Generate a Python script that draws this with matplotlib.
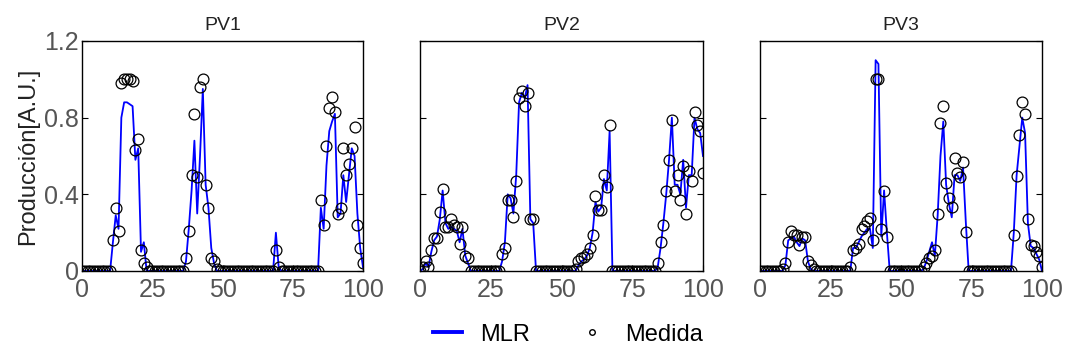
import matplotlib
matplotlib.use("Agg")
import matplotlib.pyplot as plt
from matplotlib.lines import Line2D
import numpy as np

plt.rcParams['font.family'] = ['Liberation Sans', 'DejaVu Sans']

# ---------------- data ----------------
x = np.arange(101)

titles = ["PV1", "PV2", "PV3"]
x_ticks = [0, 25, 50, 75, 100]
y_ticks = [0, 0.4, 0.8, 1.2]
y_ticklabels = ["0", "0.4", "0.8", "1.2"]

pv1_medida = [
    0, 0, 0, 0, 0, 0, 0, 0, 0, 0, 0,
    0.16, 0.33, 0.21, 0.98, 1.00, 1.00, 1.00, 0.99, 0.63, 0.69, 0.11, 0.04, 0.02,
    0, 0, 0, 0, 0, 0, 0, 0, 0, 0, 0, 0, 0,
    0.07, 0.21, 0.50, 0.82, 0.49, 0.96, 1.00, 0.45, 0.33, 0.07, 0.05, 0.01,
    0, 0, 0, 0, 0, 0, 0, 0, 0, 0, 0, 0, 0, 0, 0, 0, 0, 0, 0, 0,
    0.11, 0.02,
    0, 0, 0, 0, 0, 0, 0, 0, 0, 0, 0, 0, 0, 0,
    0.37, 0.24, 0.65, 0.85, 0.91, 0.83, 0.30, 0.33, 0.64, 0.50, 0.56, 0.64, 0.75, 0.24, 0.12, 0.04,
]
pv1_mlr = [
    0, 0, 0, 0, 0, 0, 0, 0, 0, 0, 0,
    0.15, 0.29, 0.22, 0.80, 0.88, 0.88, 0.87, 0.86, 0.58, 0.64, 0.10, 0.15, 0.00,
    0, 0, 0, 0, 0, 0, 0, 0, 0, 0, 0, 0, 0,
    0.05, 0.22, 0.42, 0.68, 0.30, 0.60, 0.95, 0.45, 0.33, 0.12, 0.04, 0.00,
    0, 0, 0, 0, 0, 0, 0, 0, 0, 0, 0, 0, 0, 0, 0, 0, 0, 0, 0, 0,
    0.20, 0.02,
    0, 0, 0, 0, 0, 0, 0, 0, 0, 0, 0, 0, 0, 0,
    0.33, 0.22, 0.55, 0.73, 0.78, 0.82, 0.28, 0.30, 0.50, 0.36, 0.50, 0.64, 0.60, 0.30, 0.12, 0.02,
]

pv2_medida = [
    0, 0.02, 0.05, 0.02, 0.11, 0.17, 0.17, 0.31, 0.43, 0.23, 0.23, 0.27, 0.24, 0.23, 0.14, 0.23, 0.08, 0.07,
    0, 0, 0, 0, 0, 0, 0, 0, 0, 0, 0,
    0.09, 0.12, 0.37, 0.37, 0.28, 0.47, 0.90, 0.94, 0.86, 0.93, 0.27, 0.27,
    0, 0, 0, 0, 0, 0, 0, 0, 0, 0, 0, 0, 0, 0,
    0.01, 0.05, 0.07, 0.075, 0.09, 0.12, 0.19, 0.39, 0.32, 0.32, 0.50, 0.44, 0.76,
    0, 0, 0, 0, 0, 0, 0, 0, 0, 0, 0, 0, 0, 0, 0, 0,
    0.04, 0.15, 0.24, 0.42, 0.58, 0.79, 0.42, 0.50, 0.37, 0.55, 0.30, 0.52, 0.47, 0.83, 0.76, 0.73, 0.51,
]
pv2_mlr = [
    0, 0.01, 0.04, 0.02, 0.10, 0.16, 0.18, 0.27, 0.42, 0.25, 0.22, 0.23, 0.22, 0.21, 0.15, 0.22, 0.08, 0.04,
    0, 0, 0, 0, 0, 0, 0, 0, 0, 0, 0,
    0.05, 0.15, 0.40, 0.38, 0.30, 0.50, 0.88, 0.93, 0.90, 0.97, 0.27, 0.25,
    0, 0, 0, 0, 0, 0, 0, 0, 0, 0, 0, 0, 0, 0,
    0.00, 0.03, 0.05, 0.06, 0.08, 0.12, 0.20, 0.36, 0.31, 0.33, 0.48, 0.42, 0.73,
    0, 0, 0, 0, 0, 0, 0, 0, 0, 0, 0, 0, 0, 0, 0, 0,
    0.02, 0.12, 0.25, 0.40, 0.58, 0.80, 0.45, 0.45, 0.40, 0.58, 0.33, 0.50, 0.50, 0.80, 0.74, 0.72, 0.60,
]

pv3_medida = [
    0, 0, 0, 0, 0, 0, 0, 0,
    0.01, 0.04, 0.15, 0.21, 0.19, 0.19, 0.135, 0.175, 0.175, 0.05, 0.03, 0.01,
    0, 0, 0, 0, 0, 0, 0, 0, 0, 0, 0, 0,
    0.02, 0.11, 0.12, 0.14, 0.22, 0.235, 0.26, 0.275, 0.16, 1.00, 1.00, 0.22, 0.42, 0.18,
    0, 0, 0, 0, 0, 0, 0, 0, 0, 0, 0, 0,
    0.02, 0.04, 0.066, 0.08, 0.11, 0.30, 0.77, 0.86, 0.46, 0.38, 0.335, 0.59, 0.51, 0.49, 0.57, 0.205,
    0, 0, 0, 0, 0, 0, 0, 0, 0, 0, 0, 0, 0, 0, 0, 0,
    0.19, 0.495, 0.71, 0.88, 0.82, 0.27, 0.135, 0.13, 0.10, 0.08, 0.02,
]
pv3_mlr = [
    0, 0, 0, 0, 0, 0, 0, 0,
    0.00, 0.03, 0.16, 0.17, 0.18, 0.15, 0.13, 0.17, 0.16, 0.05, 0.01, 0.00,
    0, 0, 0, 0, 0, 0, 0, 0, 0, 0, 0, 0,
    0.00, 0.12, 0.12, 0.15, 0.18, 0.20, 0.22, 0.22, 0.12, 1.10, 1.08, 0.18, 0.42, 0.20,
    0, 0, 0, 0, 0, 0, 0, 0, 0, 0, 0, 0,
    0.01, 0.05, 0.10, 0.15, 0.08, 0.29, 0.60, 0.78, 0.45, 0.35, 0.28, 0.50, 0.50, 0.47, 0.54, 0.25,
    0, 0, 0, 0, 0, 0, 0, 0, 0, 0, 0, 0, 0, 0, 0, 0,
    0.20, 0.50, 0.65, 0.80, 0.72, 0.25, 0.13, 0.12, 0.09, 0.06, 0.00,
]

medida = [pv1_medida, pv2_medida, pv3_medida]
mlr = [pv1_mlr, pv2_mlr, pv3_mlr]
for s in medida + mlr:
    assert len(s) == 101, len(s)

# ---------------- figure ----------------
W, H = 1067, 358
fig = plt.figure(figsize=(W / 100, H / 100), dpi=100)

ax_px = [(82, 281), (420, 283), (760, 282)]  # left, width in px
bottom_px, top_px = 271, 41

tick_gray = "#555555"
for i, (l, w) in enumerate(ax_px):
    ax = fig.add_axes([l / W, (H - bottom_px) / H, w / W, (bottom_px - top_px) / H])
    ax.plot(x, mlr[i], color="#0000ff", lw=1.3, zorder=2)
    ax.plot(x, medida[i], "o", mfc="none", mec="black", ms=7.8, mew=0.9, zorder=3)
    ax.set_xlim(0, 100)
    ax.set_ylim(0, 1.2)
    ax.set_xticks(x_ticks)
    ax.set_yticks(y_ticks)
    ax.tick_params(direction="in", length=4, width=0.8, right=True, top=False,
                   labelsize=18, labelcolor=tick_gray, color="black")
    ax.tick_params(axis="x", pad=5)
    ax.tick_params(axis="y", pad=2.5)
    if i == 0:
        ax.set_yticklabels(y_ticklabels)
        ax.set_ylabel("Producción[A.U.]", fontsize=17, color="#222222", labelpad=3)
    else:
        ax.set_yticklabels([])
    for sp in ax.spines.values():
        sp.set_linewidth(1.0)
        sp.set_color("black")
    ax.set_title(titles[i], fontsize=14, color="#222222", pad=8)

handles = [
    Line2D([], [], color="#0000ff", lw=2.8),
    Line2D([], [], marker="o", ls="none", mfc="none", mec="black", ms=4, mew=1.0),
]
fig.legend(handles, ["MLR", "Medida"], loc="center", bbox_to_anchor=(568 / W, 0.065),
           ncol=2, frameon=False, fontsize=17, handlelength=1.2, handletextpad=0.8,
           columnspacing=2.0)

fig.savefig("out.png", dpi=100)
